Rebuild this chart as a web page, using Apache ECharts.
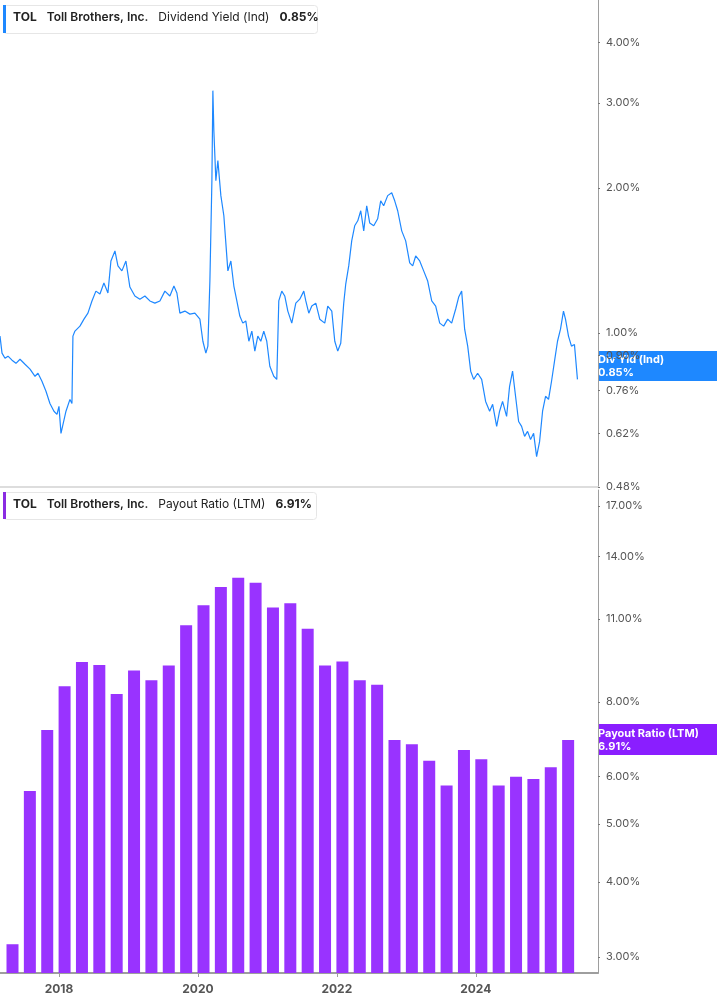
<!DOCTYPE html>
<html>
<head>
<meta charset="utf-8">
<script src="https://cdn.jsdelivr.net/npm/echarts@6/dist/echarts.min.js"></script>
<style>
  html, body { margin: 0; padding: 0; background: #fff; }
  #chart { width: 717px; height: 1005px; }
</style>
</head>
<body>
<div id="chart"></div>
<script>
// 股息率 (按小数年份)
const yieldYears = [2017.150, 2017.179, 2017.222, 2017.265, 2017.323, 2017.380, 2017.438, 2017.510, 2017.582, 2017.654,
  2017.697, 2017.754, 2017.812, 2017.869, 2017.927, 2017.970, 2017.999, 2018.028, 2018.056, 2018.100,
  2018.157, 2018.186, 2018.200, 2018.229, 2018.301, 2018.359, 2018.416, 2018.474, 2018.531, 2018.589,
  2018.646, 2018.704, 2018.747, 2018.805, 2018.848, 2018.905, 2018.963, 2019.020, 2019.092, 2019.164,
  2019.236, 2019.308, 2019.380, 2019.452, 2019.524, 2019.596, 2019.654, 2019.697, 2019.740, 2019.812,
  2019.884, 2019.956, 2020.028, 2020.071, 2020.114, 2020.143, 2020.172, 2020.201, 2020.215, 2020.229,
  2020.258, 2020.287, 2020.330, 2020.373, 2020.431, 2020.474, 2020.517, 2020.560, 2020.603, 2020.646,
  2020.689, 2020.733, 2020.776, 2020.819, 2020.862, 2020.905, 2020.948, 2020.991, 2021.035, 2021.092,
  2021.135, 2021.164, 2021.207, 2021.250, 2021.294, 2021.351, 2021.409, 2021.466, 2021.524, 2021.553,
  2021.596, 2021.639, 2021.697, 2021.754, 2021.826, 2021.869, 2021.927, 2021.970, 2022.013, 2022.056,
  2022.099, 2022.128, 2022.171, 2022.214, 2022.257, 2022.301, 2022.344, 2022.387, 2022.430, 2022.473,
  2022.531, 2022.588, 2022.631, 2022.674, 2022.732, 2022.790, 2022.833, 2022.876, 2022.934, 2022.991,
  2023.049, 2023.092, 2023.135, 2023.193, 2023.250, 2023.308, 2023.366, 2023.423, 2023.481, 2023.538,
  2023.596, 2023.653, 2023.711, 2023.754, 2023.797, 2023.840, 2023.884, 2023.927, 2023.970, 2024.027,
  2024.085, 2024.142, 2024.200, 2024.243, 2024.301, 2024.343, 2024.386, 2024.444, 2024.487, 2024.530,
  2024.573, 2024.617, 2024.660, 2024.703, 2024.746, 2024.789, 2024.833, 2024.876, 2024.919, 2024.962,
  2025.005, 2025.048, 2025.091, 2025.134, 2025.177, 2025.220, 2025.263, 2025.292, 2025.335, 2025.378,
  2025.421, 2025.464];
const yieldValues = [0.986, 0.909, 0.887, 0.896, 0.879, 0.866, 0.883, 0.862, 0.842, 0.814,
  0.826, 0.795, 0.758, 0.715, 0.689, 0.679, 0.705, 0.620, 0.617, 0.689,
  0.729, 0.715, 0.986, 1.010, 1.034, 1.069, 1.100, 1.166, 1.222, 1.205,
  1.270, 1.211, 1.411, 1.480, 1.378, 1.346, 1.411, 1.246, 1.194, 1.176,
  1.194, 1.166, 1.154, 1.166, 1.222, 1.194, 1.252, 1.211, 1.100, 1.111,
  1.095, 1.100, 1.069, 0.962, 0.909, 0.940, 1.282, 2.070, 3.180, 2.630,
  2.070, 2.277, 1.927, 1.751, 1.346, 1.411, 1.252, 1.166, 1.085, 1.049,
  1.060, 0.962, 1.010, 0.918, 0.986, 0.962, 1.010, 0.962, 0.854, 0.814,
  0.802, 1.166, 1.222, 1.194, 1.111, 1.049, 1.154, 1.176, 1.222, 1.166,
  1.100, 1.138, 1.154, 1.069, 1.049, 1.138, 1.111, 0.962, 0.918, 0.953,
  1.154, 1.264, 1.378, 1.553, 1.669, 1.709, 1.793, 1.629, 1.836, 1.692,
  1.669, 1.726, 1.880, 1.836, 1.927, 1.954, 1.880, 1.793, 1.629, 1.553,
  1.398, 1.378, 1.445, 1.411, 1.346, 1.282, 1.166, 1.138, 1.049, 1.034,
  1.069, 1.049, 1.122, 1.188, 1.222, 1.019, 0.940, 0.834, 0.802, 0.826,
  0.802, 0.722, 0.689, 0.712, 0.641, 0.689, 0.722, 0.672, 0.776, 0.834,
  0.740, 0.656, 0.641, 0.611, 0.626, 0.602, 0.620, 0.555, 0.596, 0.689,
  0.740, 0.729, 0.795, 0.875, 0.962, 1.019, 1.111, 1.069, 0.986, 0.940,
  0.947, 0.802];

// 派息率 (季度)
const payoutYears = [2017.33, 2017.58, 2017.83, 2018.08, 2018.33, 2018.58, 2018.83, 2019.08, 2019.33, 2019.58,
  2019.83, 2020.08, 2020.33, 2020.58, 2020.83, 2021.08, 2021.33, 2021.58, 2021.83, 2022.08,
  2022.33, 2022.58, 2022.83, 2023.08, 2023.33, 2023.58, 2023.83, 2024.08, 2024.33, 2024.58,
  2024.83, 2025.08, 2025.33];
const payoutValues = [3.15, 5.68, 7.18, 8.50, 9.33, 9.22, 8.25, 9.03, 8.70, 9.20,
  10.75, 11.60, 12.45, 12.90, 12.65, 11.50, 11.70, 10.60, 9.20, 9.35,
  8.70, 8.55, 6.91, 6.80, 6.38, 5.80, 6.65, 6.42, 5.80, 6.00,
  5.95, 6.22, 6.91];

const yearTicks = [2018, 2020, 2022, 2024];
const yieldTicks = [0.48, 0.62, 0.76, 0.9, 1, 2, 3, 4];
const payoutTicks = [3, 4, 5, 6, 8, 11, 14, 17];

const chart = echarts.init(document.getElementById('chart'));
const axisGrey = '#9e9e9e';
const labelGrey = '#555';
const pct = v => v.toFixed(2) + '%';

function xAxisOpt(gridIndex, showLabels) {
    return {
        type: 'value', gridIndex, min: 2017.15, max: 2025.76,
        splitLine: { show: false },
        axisLine: { show: true, lineStyle: { color: showLabels ? axisGrey : '#ddd', width: showLabels ? 2 : 2 } },
        axisTick: { show: showLabels, customValues: yearTicks, length: 4, lineStyle: { color: axisGrey } },
        axisLabel: {
            show: showLabels, customValues: yearTicks, color: labelGrey, fontSize: 12, fontWeight: 'bold',
            fontFamily: 'Inter', margin: 10, formatter: v => String(Math.round(v))
        }
    };
}

function yAxisOpt(gridIndex, min, max, ticks) {
    return {
        type: 'log', gridIndex, position: 'right', min, max, logBase: 10,
        splitLine: { show: false },
        axisLine: { show: true, lineStyle: { color: axisGrey, width: 1 } },
        axisTick: { show: true, customValues: ticks, length: 2, inside: false, lineStyle: { color: '#777' } },
        axisLabel: {
            customValues: ticks, color: labelGrey, fontSize: 11, fontFamily: 'Inter', margin: 8,
            formatter: pct
        }
    };
}

const option = {
    animation: false,
    grid: [
        { left: 0, right: 119, top: 0, height: 487 },
        { left: 0, right: 119, top: 490, bottom: 32 }
    ],
    xAxis: [xAxisOpt(0, false), xAxisOpt(1, true)],
    yAxis: [yAxisOpt(0, 0.48, 4.9, yieldTicks), yAxisOpt(1, 2.82, 18.08, payoutTicks)],
    series: [
        {
            type: 'line', xAxisIndex: 0, yAxisIndex: 0, showSymbol: false,
            data: yieldYears.map((y, i) => [y, yieldValues[i]]),
            lineStyle: { color: '#1e88ff', width: 1.2 }
        },
        {
            type: 'bar', xAxisIndex: 1, yAxisIndex: 1, barWidth: 12,
            data: payoutYears.map((y, i) => [y, payoutValues[i]]),
            itemStyle: { color: '#9933ff', borderColor: '#c9a3ff', borderWidth: 0 }
        }
    ],
    graphic: [
        // 标题框
        { type: 'rect', left: 3, top: 5, shape: { width: 314, height: 28, r: 3 },
          style: { fill: '#fff', stroke: '#e6e6e6', lineWidth: 1 } },
        { type: 'rect', left: 3, top: 5, shape: { width: 3, height: 28 }, style: { fill: '#1e88ff' } },
        { type: 'text', left: 13, top: 11, style: {
            text: '{b|TOL}   {s|Toll Brothers, Inc.}   {n|Dividend Yield (Ind)}   {b|0.85%}',
            rich: {
                b: { fontSize: 12, fontWeight: 'bold', fill: '#222', fontFamily: 'Inter' },
                s: { fontSize: 12, fontWeight: 600, fill: '#222', fontFamily: 'Inter' },
                n: { fontSize: 12, fill: '#222', fontFamily: 'Inter' }
            } } },
        { type: 'rect', left: 3, top: 492, shape: { width: 313, height: 27, r: 3 },
          style: { fill: '#fff', stroke: '#e6e6e6', lineWidth: 1 } },
        { type: 'rect', left: 3, top: 492, shape: { width: 3, height: 27 }, style: { fill: '#8a2be2' } },
        { type: 'text', left: 13, top: 498, style: {
            text: '{b|TOL}   {s|Toll Brothers, Inc.}   {n|Payout Ratio (LTM)}   {b|6.91%}',
            rich: {
                b: { fontSize: 12, fontWeight: 'bold', fill: '#222', fontFamily: 'Inter' },
                s: { fontSize: 12, fontWeight: 600, fill: '#222', fontFamily: 'Inter' },
                n: { fontSize: 12, fill: '#222', fontFamily: 'Inter' }
            } } },
        // 右侧数值标签
        { type: 'rect', left: 598, top: 351, shape: { width: 119, height: 30 }, style: { fill: '#1e88ff' } },
        { type: 'text', left: 598, top: 353, style: {
            text: 'Div Yld (Ind)\n0.85%', fill: '#fff', fontSize: 11, fontWeight: 'bold', fontFamily: 'Inter',
            width: 119, align: 'center', lineHeight: 13 } , x: 59, position: null },
        { type: 'rect', left: 598, top: 724, shape: { width: 119, height: 31 }, style: { fill: '#8a1eff' } },
        { type: 'text', left: 598, top: 727, style: {
            text: 'Payout Ratio (LTM)\n6.91%', fill: '#fff', fontSize: 11, fontWeight: 'bold', fontFamily: 'Inter',
            width: 119, align: 'center', lineHeight: 13 } }
    ]
};

chart.setOption(option);
</script>
</body>
</html>
